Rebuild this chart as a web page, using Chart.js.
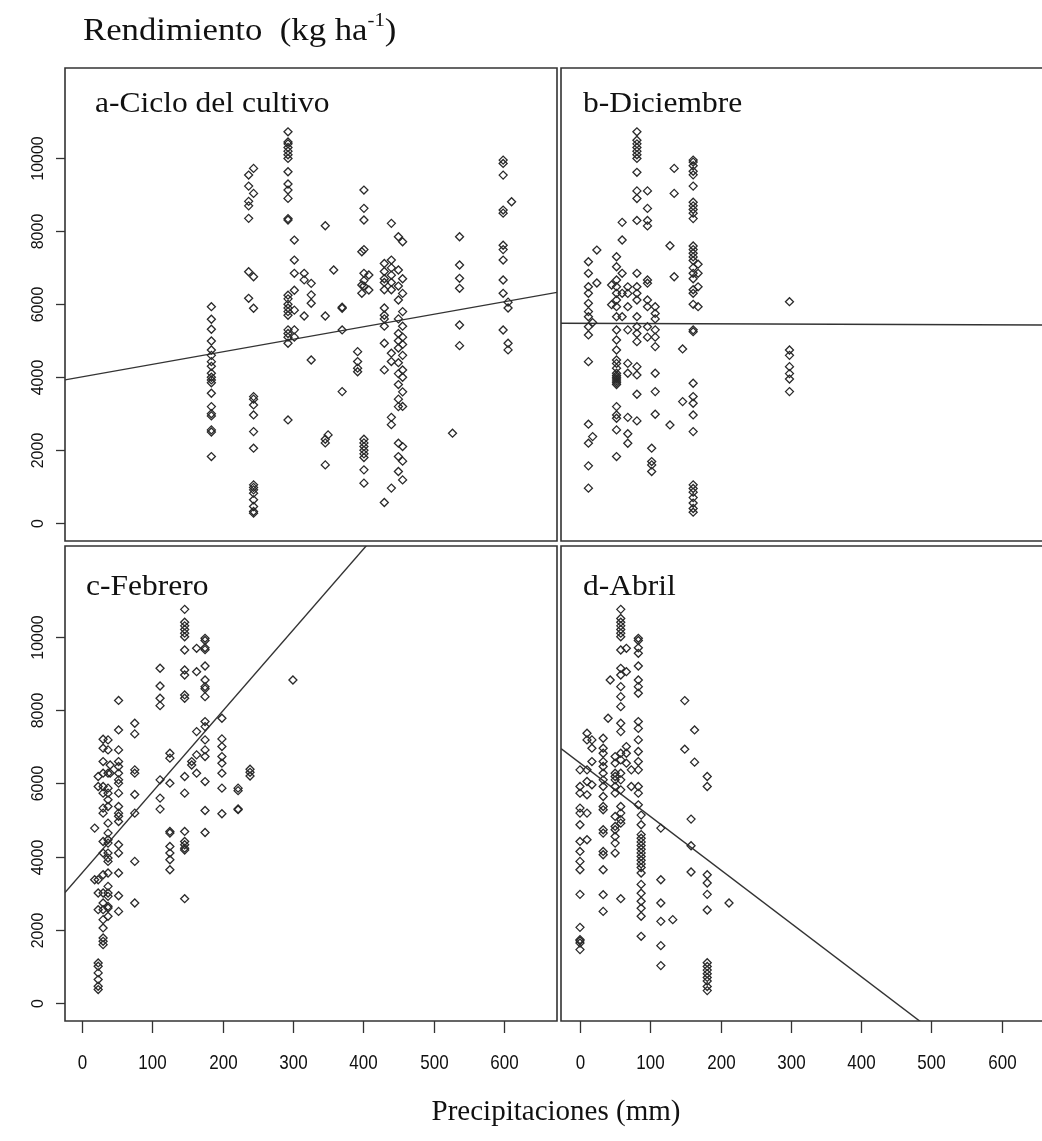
<!DOCTYPE html>
<html>
<head>
<meta charset="utf-8">
<script src="https://cdn.jsdelivr.net/npm/chart.js@4.4.0/dist/chart.umd.min.js"></script>
<style>
  body { margin: 0; background: #fff; }
  #wrap { position: relative; width: 1042px; height: 1141px; overflow: hidden; }
  #wrap canvas { position: absolute; left: 0; top: 0; }
  .lbl { position: absolute; white-space: nowrap; line-height: 1; color: #111;
         font-family: "Liberation Serif", "Times New Roman", serif; transform-origin: 0 0; }
  .lbl sup { font-size: 60%; vertical-align: 0; position: relative; top: -0.75em; }
  .panel { font-size: 30px; transform: scaleX(1.05); }
</style>
</head>
<body>
<div id="wrap">
  <canvas id="cA" width="1042" height="1141"></canvas>
  <canvas id="cB" width="1042" height="1141"></canvas>
  <canvas id="cC" width="1042" height="1141"></canvas>
  <canvas id="cD" width="1042" height="1141"></canvas>
  <div class="lbl" style="left:83px; top:14px; font-size:31px; transform:scaleX(1.12);">Rendimiento&nbsp; (kg ha<sup>-1</sup>)</div>
  <div class="lbl panel" style="left:95px; top:87px;">a-Ciclo del cultivo</div>
  <div class="lbl panel" style="left:583px; top:87px;">b-Diciembre</div>
  <div class="lbl panel" style="left:86px; top:570px;">c-Febrero</div>
  <div class="lbl panel" style="left:583px; top:570px;">d-Abril</div>
  <div class="lbl" style="left:0; width:1112px; text-align:center; top:1096px; font-size:29px;">Precipitaciones (mm)</div>
</div>
<script>
// rendimiento (kg/ha) por precipitación (mm): [x, [y, y, ...]]
const cicloCols = [
  [184, [5935, 5590, 5316, 4995, 4748, 4600, 4428, 4300, 4110, 4000, 3927, 3850, 3562, 3195, 3000, 2940, 2557, 2500, 1825]],
  [237, [9544, 9242, 8823, 8700, 8357, 6894, 6165]],
  [244, [9727, 9042, 6757, 5891, 3469, 3400, 3241, 2967, 2510, 2055, 1050, 980, 912, 822, 639, 456, 319, 274]],
  [293, [10730, 10450, 10400, 10300, 10200, 10100, 10000, 9634, 9300, 9133, 8905, 8350, 8311, 6250, 6150, 6000, 5900, 5800, 5700, 5300, 5200, 5100, 4932, 2830]],
  [302, [7762, 7214, 6850, 6385, 5840, 5300, 5100]],
  [316, [6850, 6670, 5680]],
  [326, [6575, 6260, 6030, 4474]],
  [346, [8155, 5680, 2300, 2200, 1597]],
  [350, [2420]],
  [358, [6940]],
  [370, [5890, 5920, 5297, 3606]],
  [392, [4702, 4430, 4250, 4150]],
  [398, [7442, 6530, 6302]],
  [401, [9133, 8631, 8311, 7500, 6850, 6650, 6500, 2300, 2200, 2100, 2000, 1900, 1800, 1461, 1096]],
  [408, [6803, 6393]],
  [430, [7120, 6900, 6700, 6600, 6400, 5900, 5700, 5600, 5400, 4932, 4202, 565]],
  [440, [8220, 7214, 7000, 6800, 6600, 6400, 4660, 4430, 2900, 2700, 960]],
  [450, [7853, 6940, 6500, 6118, 5600, 5200, 5000, 4800, 4400, 4100, 3800, 3400, 3195, 2192, 1825, 1415]],
  [456, [7716, 6700, 6300, 5800, 5400, 5100, 4900, 4600, 4200, 4000, 3600, 3200, 2100, 1700, 1186]],
  [527, [2466]],
  [537, [7853, 7077, 6713, 6439, 5434, 4867]],
  [599, [9954, 9863, 9543, 8584, 8500, 7620, 7500, 7214, 6666, 6302, 5296]],
  [606, [6060, 5900, 4932, 4750]],
  [611, [8813]]
];
const dicCols = [
  [12, [959, 1570, 2192, 2713, 4428, 5160, 5387, 5660, 5800, 6028, 6302, 6484, 6850, 7168]],
  [18, [2373, 5500]],
  [24, [7488, 6584]],
  [45, [6530, 5990]],
  [52, [7305, 7031, 6666, 6483, 6302, 6118, 5935, 5661, 5296, 5022, 4748, 4474, 4380, 4250, 4110, 4050, 4000, 3950, 3900, 3850, 3800, 3195, 2967, 2876, 2557, 1825]],
  [60, [8247, 7763, 6850, 6302, 5661]],
  [68, [6480, 6300, 5935, 5300, 4380, 4110, 2900, 2450, 2190]],
  [81, [10730, 10500, 10400, 10300, 10200, 10100, 10000, 9620, 9110, 8900, 8300, 6850, 6483, 6302, 6118, 5661, 5387, 5200, 4976, 4291, 4064, 3535, 2803]],
  [96, [9110, 8630, 8300, 8150, 6666, 6580, 6120, 5935, 5387, 5100]],
  [102, [2055, 1688, 1597, 1414]],
  [107, [5935, 5750, 5600, 5300, 5100, 4840, 4110, 3606, 2986]],
  [128, [7606, 2693]],
  [134, [9727, 9042, 6757]],
  [146, [4776, 3332]],
  [161, [9954, 9900, 9800, 9650, 9550, 9242, 8800, 8700, 8600, 8500, 8350, 7600, 7500, 7400, 7300, 7200, 7000, 6850, 6700, 6400, 6302, 6000, 5300, 5250, 3836, 3470, 3287, 2967, 2510, 1050, 950, 850, 700, 550, 400, 300]],
  [168, [7100, 6850, 6480, 5935]],
  [298, [6072, 4748, 4600, 4291, 4100, 3950, 3606]]
];
const febCols = [
  [18, [4777, 3368]],
  [23, [6185, 5912, 3368, 3005, 2550, 1096, 1004, 823, 641, 459, 368]],
  [30, [7204, 6959, 6594, 6277, 5912, 5732, 5323, 5186, 4412, 4095, 3504, 3005, 2732, 2550, 2277, 2051, 1778, 1686, 1595]],
  [37, [7186, 6913, 6277, 5868, 5732, 5550, 5368, 4913, 4641, 4459, 4368, 4095, 3959, 3868, 3550, 3186, 3004, 2913, 2640, 2595, 2368]],
  [40, [6500, 6277]],
  [52, [8263, 7458, 6913, 6594, 6458, 6277, 6095, 6004, 5732, 5368, 5186, 5100, 4958, 4322, 4095, 3550, 2931, 2503]],
  [75, [7641, 7350, 6368, 6277, 5695, 5186, 3868, 2733]],
  [111, [9141, 8658, 8323, 8121, 6095, 5596, 5296]],
  [125, [6822, 6687, 6004, 4686, 4640, 4277, 4095, 3913, 3641]],
  [146, [10750, 10400, 10300, 10200, 10100, 10000, 9640, 9094, 8958, 8413, 8323, 6185, 5732, 4686, 4412, 4322, 4230, 4180, 2850]],
  [156, [6594, 6500]],
  [163, [9686, 9048, 7412, 6777, 6277]],
  [175, [9959, 9900, 9700, 9650, 9204, 8822, 8640, 8580, 8367, 7686, 7549, 7186, 6913, 6731, 6048, 5257, 4658]],
  [199, [7777, 7213, 7004, 6731, 6550, 6277, 5868, 5168]],
  [222, [5868, 5800, 5300, 5280]],
  [239, [6386, 6300, 6200]],
  [300, [8822]]
];
const abrCols = [
  [0, [6368, 5913, 5732, 5323, 5187, 4868, 4413, 4140, 3868, 3641, 2968, 2067, 1732, 1700, 1641, 1459]],
  [10, [7368, 7186, 6368, 6049, 5686, 5187, 4459]],
  [17, [7186, 6959, 6594, 5959]],
  [33, [7231, 6959, 6822, 6594, 6458, 6277, 6095, 5913, 5640, 5368, 5277, 4731, 4640, 4140, 4050, 3641, 2959, 2503]],
  [40, [7777]],
  [43, [8822]],
  [50, [6731, 6550, 6277, 6186, 6095, 5913, 5732, 5096, 4823, 4731, 4550, 4368, 4095]],
  [58, [10750, 10500, 10400, 10300, 10200, 10100, 10000, 9640, 9140, 8958, 8640, 8367, 8094, 7640, 7412, 6822, 6640, 6277, 6095, 5822, 5368, 5187, 5004, 4913, 2850]],
  [66, [9686, 9048, 7004, 6822, 6550]],
  [73, [6368, 5913]],
  [83, [9959, 9900, 9700, 9550, 9204, 8822, 8640, 8460, 7686, 7500, 7186, 6868, 6594, 6368, 5913, 5732, 5413]],
  [87, [5132, 4868, 4600, 4500, 4400, 4300, 4200, 4100, 4000, 3900, 3800, 3700, 3550, 3240, 3000, 2780, 2590, 2370, 1822]],
  [115, [4777, 3368, 2733, 2231, 1568, 1023]],
  [132, [2277]],
  [149, [8258, 6932]],
  [158, [5023, 4295, 3578]],
  [163, [7458, 6578]],
  [181, [6186, 5913, 3504, 3277, 2968, 2540, 1100, 1000, 900, 800, 700, 600, 450, 340]],
  [212, [2733]]
];

// rectas de regresión (a + b*x): a, b, c, d
const fitIntercept = [4010, 5477, 3550, 6554];
const fitSlope = [3.43, -0.07, 22.1, -14.58];

const xTicks = [0, 100, 200, 300, 400, 500, 600];
const yTicks = [0, 2000, 4000, 6000, 8000, 10000];

const Y_MIN = -490, Y_MAX = 12480;

const panelDeco = {
  id: 'panelDeco',
  afterDraw(chart, args, o) {
    const { ctx, chartArea: a, scales: { x, y } } = chart;
    ctx.save();
    ctx.strokeStyle = '#333';
    ctx.lineWidth = 1.6;
    ctx.beginPath();
    if (o.openRight) {
      ctx.moveTo(chart.width + 2, a.top); ctx.lineTo(a.left, a.top);
      ctx.lineTo(a.left, a.bottom); ctx.lineTo(chart.width + 2, a.bottom);
    } else {
      ctx.rect(a.left, a.top, a.right - a.left, a.bottom - a.top);
    }
    ctx.stroke();

    ctx.fillStyle = '#111';
    ctx.lineWidth = 1.3;
    ctx.textAlign = 'center';
    ctx.textBaseline = 'middle';
    if (o.yAxis) {
      ctx.font = '16px "Liberation Sans", Arial, sans-serif';
      yTicks.forEach(v => {
        const py = Math.round(y.getPixelForValue(v)) + 0.5;
        ctx.beginPath(); ctx.moveTo(a.left, py); ctx.lineTo(a.left - 9, py); ctx.stroke();
        ctx.save();
        ctx.translate(39, py);
        ctx.rotate(-Math.PI / 2);
        ctx.fillText(String(v), 0, 0);
        ctx.restore();
      });
    }
    if (o.xAxis) {
      ctx.font = '17px "Liberation Sans", Arial, sans-serif';
      xTicks.forEach(v => {
        const px = Math.round(x.getPixelForValue(v)) + 0.5;
        ctx.beginPath(); ctx.moveTo(px, a.bottom); ctx.lineTo(px, a.bottom + 12); ctx.stroke();
        ctx.save();
        ctx.translate(px, 1063);
        ctx.scale(1, 1.2);
        ctx.fillText(String(v), 0, 0);
        ctx.restore();
      });
    }
    ctx.restore();
  }
};

function makePanel(id, cols, idx, pad, xMin, xMax, deco) {
  const pts = [];
  cols.forEach(([px, ys]) => ys.forEach(v => pts.push({ x: px, y: v })));
  const a = fitIntercept[idx], b = fitSlope[idx];
  new Chart(document.getElementById(id), {
    type: 'scatter',
    data: {
      datasets: [{
        data: pts,
        pointStyle: 'rectRot',
        pointRadius: 4,
        pointBorderWidth: 1.3,
        pointBorderColor: '#2a2a2a',
        pointBackgroundColor: 'rgba(0,0,0,0)'
      }, {
        type: 'line',
        data: [{ x: xMin, y: a + b * xMin }, { x: xMax, y: a + b * xMax }],
        borderColor: '#333',
        borderWidth: 1.4,
        pointRadius: 0,
        fill: false
      }]
    },
    options: {
      responsive: false,
      animation: false,
      events: [],
      layout: { padding: pad, autoPadding: false },
      scales: {
        x: { type: 'linear', min: xMin, max: xMax, display: false },
        y: { type: 'linear', min: Y_MIN, max: Y_MAX, display: false }
      },
      plugins: { legend: { display: false }, tooltip: { enabled: false }, panelDeco: deco }
    },
    plugins: [panelDeco]
  });
}

makePanel('cA', cicloCols, 0, { left: 65, top: 68, right: 485, bottom: 600 }, -24.2, 675.6, { yAxis: true });
makePanel('cB', dicCols, 1, { left: 561, top: 68, right: 0, bottom: 600 }, -27, 657.2, { openRight: true });
makePanel('cC', febCols, 2, { left: 65, top: 546, right: 485, bottom: 120 }, -24.2, 675.6, { yAxis: true, xAxis: true });
makePanel('cD', abrCols, 3, { left: 561, top: 546, right: 0, bottom: 120 }, -27, 657.2, { xAxis: true, openRight: true });
</script>
</body>
</html>
